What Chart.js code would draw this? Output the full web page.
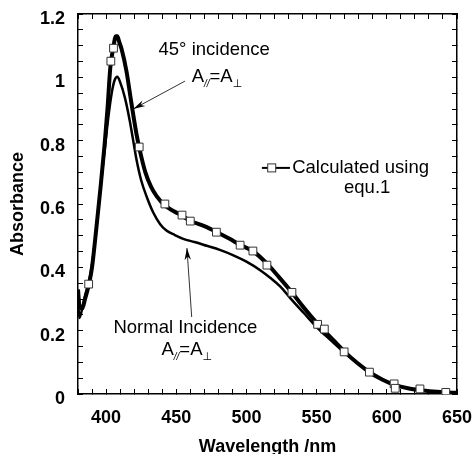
<!DOCTYPE html>
<html>
<head>
<meta charset="utf-8">
<script src="https://cdn.jsdelivr.net/npm/chart.js@4.4.1/dist/chart.umd.min.js"></script>
<style>
    html, body { margin: 0; padding: 0; background: #fff; }
    #wrap { width: 475px; height: 454px; }
</style>
</head>
<body>
<div id="wrap"><canvas id="absChart" width="475" height="454"></canvas></div>
<script>

// DATA

const wl45 = [380, 381, 383, 385, 388, 390, 393, 396, 399, 401, 403, 405, 407, 408, 409.5, 411, 414.5, 418, 421.7, 424, 428, 432, 436, 442, 448, 454, 460, 470, 479, 488, 495, 505, 515, 523, 532, 541, 551, 556, 563, 570, 579, 588, 597, 606, 615, 624, 633, 642, 650];
const abs45 = [0.33, 0.28, 0.27, 0.30, 0.35, 0.40, 0.52, 0.65, 0.79, 0.90, 1.03, 1.09, 1.13, 1.13, 1.11, 1.09, 1.02, 0.92, 0.82, 0.77, 0.70, 0.655, 0.625, 0.595, 0.578, 0.563, 0.547, 0.53, 0.511, 0.49, 0.472, 0.45, 0.41, 0.37, 0.323, 0.272, 0.22, 0.197, 0.165, 0.133, 0.098, 0.068, 0.045, 0.028, 0.018, 0.012, 0.008, 0.005, 0.004];

const wlNormal = [380, 381, 383, 385, 388, 390, 393, 396, 399, 401.5, 404, 406, 408, 410, 413.4, 417, 421.7, 425, 429, 433.6, 438.4, 443, 449, 455, 463, 471.7, 481, 490.7, 500, 509.8, 516.9, 524, 531.2, 541, 550.3, 560, 570, 580, 590, 600, 610, 620, 630, 640, 650];
const absNormal = [0.30, 0.24, 0.27, 0.31, 0.36, 0.41, 0.52, 0.65, 0.77, 0.87, 0.95, 0.99, 1.002, 0.985, 0.936, 0.86, 0.74, 0.675, 0.622, 0.573, 0.537, 0.516, 0.502, 0.49, 0.48, 0.468, 0.455, 0.438, 0.418, 0.391, 0.367, 0.34, 0.303, 0.255, 0.21, 0.17, 0.13, 0.095, 0.063, 0.04, 0.024, 0.014, 0.009, 0.005, 0.004];

const wlCalc = [387.6, 403.4, 405.3, 423.6, 441.9, 454.1, 460, 478.6, 495.5, 504.6, 514.6, 532.4, 550.7, 555.5, 569.6, 587.6, 605.2, 606, 623.6, 642];
const absCalc = [0.347, 1.051, 1.092, 0.78, 0.60, 0.565, 0.546, 0.511, 0.47, 0.4515, 0.407, 0.321, 0.22, 0.205, 0.133, 0.069, 0.032, 0.018, 0.016, 0.005];

const xTickLabels = [400, 450, 500, 550, 600, 650];
const yTickLabels = [0, 0.2, 0.4, 0.6, 0.8, 1, 1.2];

function toPoints(xs, ys) {
    return xs.map((x, i) => ({ x: x, y: ys[i] }));
}


// ANNOTATIONS (text, arrows, legend)

const textFont = "18.5px 'Liberation Sans', Arial";

function drawEq(ctx, cx, cy) {

    const parts = [
        { t: "A", f: textFont, dy: 0 },
        { t: "//", f: "italic 10px 'Liberation Sans', Arial", dy: 7 },
        { t: "=A", f: textFont, dy: 0 },
        { t: "\u22A5", f: "11px 'DejaVu Sans', sans-serif", dy: 7 }
    ];

    let total = 0;
    parts.forEach(p => {
        ctx.font = p.f;
        p.w = ctx.measureText(p.t).width;
        total += p.w;
    });

    let x = cx - total / 2;
    ctx.textAlign = "left";
    ctx.textBaseline = "middle";
    parts.forEach(p => {
        ctx.font = p.f;
        ctx.fillText(p.t, x, cy + p.dy);
        x += p.w;
    });

}

function drawArrow(ctx, x1, y1, x2, y2) {

    ctx.strokeStyle = "#333";
    ctx.lineWidth = 1;
    ctx.beginPath();
    ctx.moveTo(x1, y1);
    ctx.lineTo(x2, y2);
    ctx.stroke();

    const a = Math.atan2(y2 - y1, x2 - x1);
    const len = 12, half = 3.2;
    ctx.fillStyle = "#000";
    ctx.beginPath();
    ctx.moveTo(x2, y2);
    ctx.lineTo(x2 - len * Math.cos(a) + half * Math.sin(a), y2 - len * Math.sin(a) - half * Math.cos(a));
    ctx.lineTo(x2 - len * 0.7 * Math.cos(a), y2 - len * 0.7 * Math.sin(a));
    ctx.lineTo(x2 - len * Math.cos(a) - half * Math.sin(a), y2 - len * Math.sin(a) + half * Math.cos(a));
    ctx.closePath();
    ctx.fill();

}

const annotations = {

    id: "annotations",

    afterDatasetsDraw(chart) {

        const ctx = chart.ctx;
        const xs = chart.scales.x;
        const ys = chart.scales.y;
        const px = v => xs.getPixelForValue(v);
        const py = v => ys.getPixelForValue(v);

        ctx.save();
        ctx.fillStyle = "#000";

        // 45 degree label
        ctx.font = textFont;
        ctx.textAlign = "center";
        ctx.textBaseline = "middle";
        ctx.fillText("45\u00B0 incidence", px(477), py(1.087));
        drawEq(ctx, px(479), py(1.0));
        drawArrow(ctx, px(456.2), py(0.988), px(419.4), py(0.90));

        // normal incidence label
        ctx.fillStyle = "#000";
        ctx.font = textFont;
        ctx.textAlign = "center";
        ctx.textBaseline = "middle";
        ctx.fillText("Normal Incidence", px(456.5), py(0.208));
        drawEq(ctx, px(457.5), py(0.139));
        drawArrow(ctx, px(461), py(0.243), px(457.6), py(0.461));

        // legend
        const ly = py(0.714);
        ctx.strokeStyle = "#000";
        ctx.lineWidth = 2;
        ctx.beginPath();
        ctx.moveTo(px(511), ly);
        ctx.lineTo(px(531), ly);
        ctx.stroke();
        ctx.fillStyle = "#fff";
        ctx.strokeStyle = "#333";
        ctx.lineWidth = 1;
        ctx.fillRect(px(518) - 4, ly - 4, 8, 8);
        ctx.strokeRect(px(518) - 4, ly - 4, 8, 8);

        ctx.fillStyle = "#000";
        ctx.font = textFont;
        ctx.textAlign = "left";
        ctx.fillText(chart.data.datasets[0].label, px(532.6), ly);
        ctx.textAlign = "center";
        ctx.fillText("equ.1", px(586), py(0.65));

        ctx.restore();

    }

};


// CHART

const ctx = document.getElementById("absChart");

const axisFont = { family: "'Liberation Sans', Arial", size: 18, weight: "bold" };
const titleFont = { family: "'Liberation Sans', Arial", size: 18, weight: "bold" };

new Chart(ctx, {

    type: "scatter",

    data: {
        datasets: [
            {
                label: "Calculated using",
                data: toPoints(wlCalc, absCalc),
                showLine: false,
                pointStyle: "rect",
                pointRadius: 5.5,
                pointBackgroundColor: "#fff",
                pointBorderColor: "#333",
                pointBorderWidth: 1,
                order: 0
            },
            {
                label: "45° incidence",
                data: toPoints(wl45, abs45),
                showLine: true,
                borderColor: "#000",
                borderWidth: 4,
                pointRadius: 0,
                cubicInterpolationMode: "monotone",
                order: 1
            },
            {
                label: "Normal Incidence",
                data: toPoints(wlNormal, absNormal),
                showLine: true,
                borderColor: "#000",
                borderWidth: 2.5,
                pointRadius: 0,
                cubicInterpolationMode: "monotone",
                order: 2
            }
        ]
    },

    options: {

        responsive: false,
        animation: false,
        events: [],

        layout: {
            padding: { top: 14, right: 18, left: 0, bottom: 0 }
        },

        plugins: {
            legend: { display: false },
            tooltip: { enabled: false }
        },

        scales: {

            x: {
                type: "linear",
                position: "bottom",
                min: 380,
                max: 650,
                afterFit: s => {
                    s.height = 60;
                    s.paddingLeft = 0;
                    s.paddingRight = 0;
                },
                ticks: {
                    stepSize: 10,
                    autoSkip: false,
                    maxRotation: 0,
                    padding: 18,
                    color: "#000",
                    font: axisFont,
                    callback: v => xTickLabels.includes(v) ? String(v) : ""
                },
                grid: { drawOnChartArea: false, tickLength: -5, color: "#000" },
                border: { color: "#000", width: 1.5 },
                title: {
                    display: true,
                    text: "Wavelength /nm",
                    color: "#000",
                    font: titleFont,
                    padding: { top: 0, bottom: -4 }
                }
            },

            y: {
                type: "linear",
                position: "left",
                min: 0,
                max: 1.2,
                afterFit: s => {
                    s.width = 78;
                    s.paddingTop = 0;
                    s.paddingBottom = 0;
                },
                ticks: {
                    stepSize: 0.05,
                    autoSkip: false,
                    padding: 18,
                    labelOffset: 5,
                    color: "#000",
                    font: axisFont,
                    callback: v => {
                        const l = yTickLabels.find(t => Math.abs(t - v) < 1e-6);
                        return l === undefined ? "" : String(l);
                    }
                },
                grid: { drawOnChartArea: false, tickLength: -5, color: "#000" },
                border: { color: "#000", width: 1.5 },
                title: {
                    display: true,
                    text: "Absorbance",
                    color: "#000",
                    font: titleFont,
                    padding: { top: 7, bottom: 0 }
                }
            },

            x2: {
                type: "linear",
                position: "top",
                min: 380,
                max: 650,
                afterFit: s => { s.height = 0; },
                ticks: { stepSize: 10, display: false },
                grid: { drawOnChartArea: false, tickLength: -5, color: "#000" },
                border: { color: "#000", width: 1.5 }
            },

            y2: {
                type: "linear",
                position: "right",
                min: 0,
                max: 1.2,
                afterFit: s => { s.width = 0; },
                ticks: { stepSize: 0.05, display: false },
                grid: { drawOnChartArea: false, tickLength: -5, color: "#000" },
                border: { color: "#000", width: 1.5 }
            }

        }

    },

    plugins: [annotations]

});

</script>
</body>
</html>
